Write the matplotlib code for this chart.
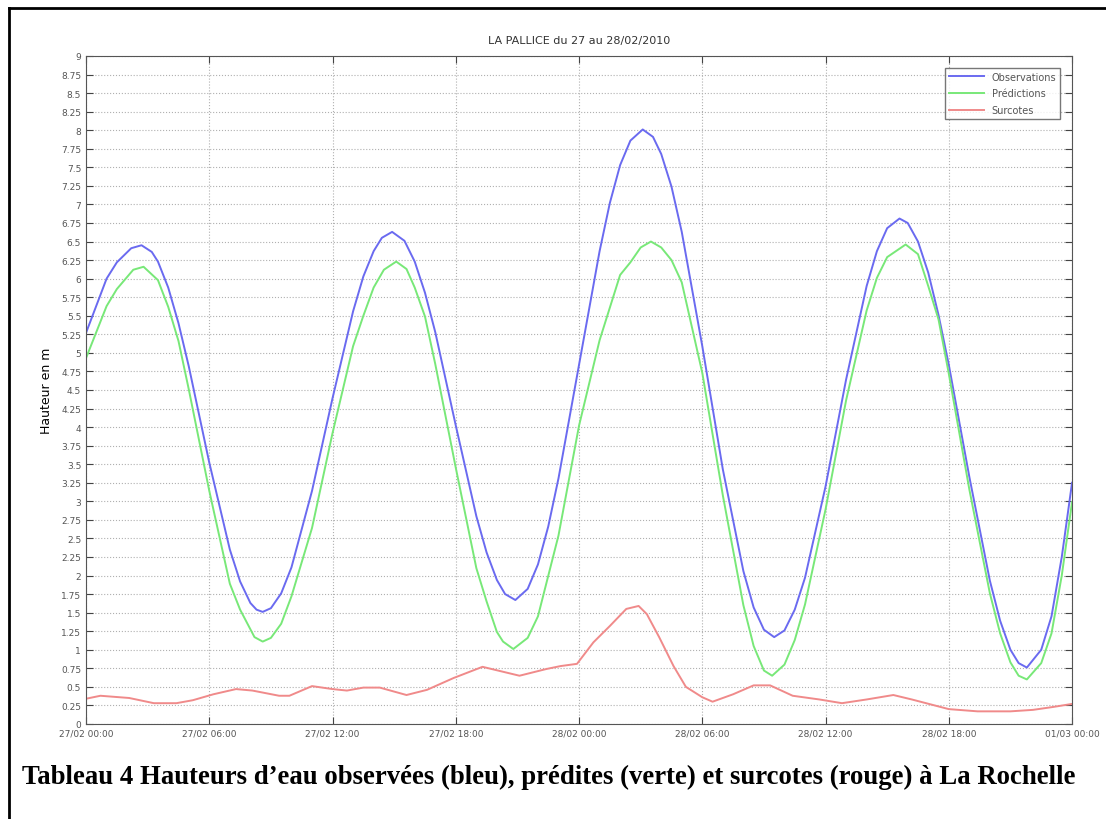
import matplotlib
matplotlib.use("Agg")
import matplotlib.pyplot as plt
from matplotlib.lines import Line2D

# heures depuis le 27/02 00:00
obs_t = [0, 1, 1.5, 2.2, 2.7, 3.2, 3.5, 4, 4.5, 5, 6, 7, 7.5, 8, 8.3, 8.6, 9, 9.5, 10, 11, 12, 13, 13.5,
         14, 14.4, 14.9, 15.5, 16, 16.5, 17, 18, 19, 19.5, 20, 20.4, 20.9, 21.5, 22, 22.5, 23, 24, 25,
         25.5, 26, 26.5, 27.1, 27.6, 28, 28.5, 29, 30, 31, 32, 32.5, 33, 33.5, 34, 34.5, 35, 36, 37,
         38, 38.5, 39, 39.6, 40, 40.5, 41, 41.5, 42, 43, 44, 44.5, 45, 45.4, 45.8, 46.5, 47, 47.5, 48]
obs_h = [5.27, 6.0, 6.22, 6.41, 6.45, 6.36, 6.23, 5.88, 5.40, 4.82, 3.52, 2.35, 1.92, 1.63, 1.54, 1.51,
         1.56, 1.76, 2.11, 3.14, 4.39, 5.56, 6.03, 6.37, 6.55, 6.63, 6.51, 6.23, 5.81, 5.28, 4.02, 2.80,
         2.31, 1.94, 1.75, 1.67, 1.82, 2.15, 2.66, 3.31, 4.84, 6.37, 7.02, 7.53, 7.86, 8.01, 7.91, 7.68,
         7.24, 6.63, 5.09, 3.43, 2.06, 1.57, 1.27, 1.17, 1.26, 1.54, 1.97, 3.2, 4.64, 5.9, 6.37, 6.68,
         6.81, 6.75, 6.5, 6.08, 5.51, 4.84, 3.33, 1.93, 1.39, 1.0, 0.82, 0.76, 1.0, 1.45, 2.25, 3.25]

pred_t = [0, 1, 1.5, 2.3, 2.8, 3.5, 4, 4.5, 5, 6, 7, 7.5, 8.2, 8.6, 9, 9.5, 10, 11, 12, 13, 13.5, 14,
          14.5, 15.1, 15.6, 16, 16.5, 17, 18, 19, 19.5, 20, 20.3, 20.8, 21.5, 22, 23, 24, 25, 26, 26.5,
          27, 27.5, 28, 28.5, 29, 30, 31, 32, 32.5, 33, 33.4, 34, 34.5, 35, 36, 37, 38, 38.5, 39, 39.9,
          40.5, 41, 41.5, 42, 43, 44, 44.5, 45, 45.4, 45.8, 46.5, 47, 47.5, 48]
pred_h = [4.93, 5.63, 5.86, 6.12, 6.16, 5.98, 5.62, 5.16, 4.51, 3.14, 1.89, 1.54, 1.17, 1.11, 1.16, 1.35,
          1.72, 2.64, 3.92, 5.09, 5.50, 5.88, 6.12, 6.23, 6.13, 5.88, 5.49, 4.85, 3.45, 2.10, 1.65, 1.24,
          1.11, 1.01, 1.16, 1.45, 2.54, 4.02, 5.17, 6.05, 6.22, 6.42, 6.5, 6.42, 6.25, 5.95, 4.73, 3.08,
          1.60, 1.05, 0.72, 0.65, 0.8, 1.13, 1.61, 2.89, 4.36, 5.57, 6.01, 6.29, 6.46, 6.33, 5.9, 5.45,
          4.72, 3.16, 1.76, 1.22, 0.83, 0.65, 0.6, 0.82, 1.22, 2.0, 2.99]

surc_t = [0, 0.7, 2.1, 3.3, 4.4, 5.2, 6.2, 7.3, 8.1, 9.4, 9.9, 11.0, 12.0, 12.7, 13.5, 14.3, 15.6, 16.6,
          17.9, 19.3, 21.1, 22.4, 23.1, 23.9, 24.7, 25.5, 26.3, 26.9, 27.3, 27.9, 28.6, 29.2, 30.0, 30.5,
          31.5, 32.5, 33.3, 34.4, 35.7, 36.8, 38.0, 39.3, 40.2, 42.0, 43.4, 45.0, 46.1, 47.1, 48]
surc_h = [0.34, 0.38, 0.35, 0.28, 0.28, 0.32, 0.40, 0.47, 0.45, 0.38, 0.38, 0.51, 0.47, 0.45, 0.49, 0.49,
          0.39, 0.46, 0.62, 0.77, 0.65, 0.74, 0.78, 0.81, 1.10, 1.32, 1.55, 1.59, 1.48, 1.17, 0.78, 0.50,
          0.36, 0.30, 0.40, 0.52, 0.52, 0.38, 0.33, 0.28, 0.33, 0.39, 0.33, 0.20, 0.17, 0.17, 0.19, 0.23, 0.27]

xtick_h = [0, 6, 12, 18, 24, 30, 36, 42, 48]
xtick_lab = ['27/02 00:00', '27/02 06:00', '27/02 12:00', '27/02 18:00', '28/02 00:00',
             '28/02 06:00', '28/02 12:00', '28/02 18:00', '01/03 00:00']

fig = plt.figure(figsize=(11.06, 8.2), dpi=100)
ax = fig.add_axes([0.0778, 0.1159, 0.8915, 0.8146])

ax.plot(obs_t, obs_h, color='#6a6af0', lw=1.4, label='Observations')
ax.plot(pred_t, pred_h, color='#78e878', lw=1.4, label='Prédictions')
ax.plot(surc_t, surc_h, color='#f08a8a', lw=1.4, label='Surcotes')

ax.set_xlim(0, 48)
ax.set_ylim(0, 9)
ax.set_xticks(xtick_h)
ax.set_xticklabels(xtick_lab)
yt = [i * 0.25 for i in range(37)]
ax.set_yticks(yt)
ax.set_yticklabels(['%g' % v for v in yt])
ax.tick_params(direction='in', top=True, right=True, labelsize=6.5, labelcolor='#555555',
               color='#444444', length=5)
ax.grid(True, ls=':', color='#b0b0b0', lw=0.8)
for s in ax.spines.values():
    s.set_color('#555555')

ax.set_title('LA PALLICE du 27 au 28/02/2010', fontsize=8, color='#333333', pad=9)
ax.set_ylabel('Hauteur en m', fontsize=9, labelpad=6)

leg = ax.legend(loc='upper right', fontsize=7, frameon=True, fancybox=False,
                borderaxespad=1.2, handlelength=3.6, labelspacing=0.7)
leg.get_frame().set_edgecolor('#555555')
for t in leg.get_texts():
    t.set_color('#555555')

fig.text(0.02, 0.052, 'Tableau 4 Hauteurs d\u2019eau observées (bleu), prédites (verte) et surcotes (rouge) à La Rochelle',
         fontsize=19.3, fontweight='bold', family='Liberation Serif', ha='left', va='center')

# cadre extérieur (gauche et haut)
fig.add_artist(Line2D([0.0085, 0.0085], [0, 0.989], color='black', lw=2, transform=fig.transFigure))
fig.add_artist(Line2D([0.0085, 1.0], [0.989, 0.989], color='black', lw=2, transform=fig.transFigure))

fig.savefig('out.png', dpi=100)
